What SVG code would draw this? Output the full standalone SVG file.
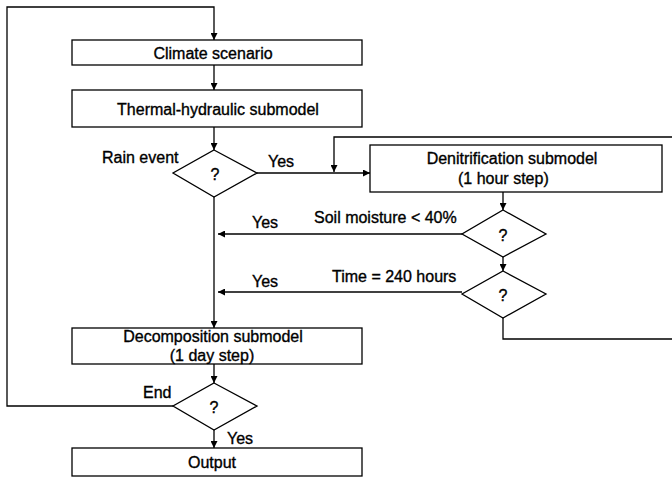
<svg xmlns="http://www.w3.org/2000/svg" width="672" height="479" viewBox="0 0 672 479">
<defs>
<marker id="ah" viewBox="0 0 10 10" refX="10" refY="5" markerWidth="9" markerHeight="7" markerUnits="userSpaceOnUse" orient="auto">
<path d="M0,0 L10,5 L0,10 Z" fill="#000"/>
</marker>
<style>
.box{fill:#fff;stroke:#000;stroke-width:1.3}
.dia{fill:#fff;stroke:#000;stroke-width:1.3}
.ln{fill:none;stroke:#000;stroke-width:1.3}
.arr{fill:none;stroke:#000;stroke-width:1.3;marker-end:url(#ah)}
text{font-family:"Liberation Sans",Arial,sans-serif;font-size:16px;fill:#000;stroke:#000;stroke-width:0.35}
.c{text-anchor:middle}
</style>
</defs>
<rect width="672" height="479" fill="#fff"/>
<g id="connectors">
<polyline class="arr" points="173,406 7,406 7,7 214,7 214,40"/>
<line class="arr" x1="214" y1="65" x2="214" y2="90"/>
<line class="arr" x1="214" y1="127" x2="214" y2="150"/>
<line class="arr" x1="257" y1="173" x2="370" y2="173"/>
<polyline class="arr" points="672,137 334,137 334,172"/>
<line class="arr" x1="503" y1="192" x2="503" y2="210"/>
<line class="arr" x1="462" y1="234" x2="218" y2="234"/>
<line class="arr" x1="503" y1="257" x2="503" y2="271"/>
<line class="arr" x1="462" y1="292" x2="218" y2="292"/>
<polyline class="ln" points="503,318 503,339 672,339"/>
<line class="arr" x1="214" y1="197" x2="214" y2="328"/>
<line class="arr" x1="214" y1="364" x2="214" y2="383"/>
<line class="arr" x1="214" y1="430" x2="214" y2="448"/>
</g>
<g id="climate">
<rect class="box" x="72" y="40" width="290" height="25"/>
<text class="c" x="213" y="59">Climate scenario</text>
</g>
<g id="thermal">
<rect class="box" x="72" y="90" width="290" height="37"/>
<text class="c" x="218" y="115">Thermal-hydraulic submodel</text>
</g>
<g id="rain">
<polygon class="dia" points="214,150 257,173 214,197 173,173"/>
<text class="c" x="215" y="180">?</text>
<text x="102" y="163">Rain event</text>
<text x="268" y="167">Yes</text>
</g>
<g id="denit">
<rect class="box" x="370" y="145" width="292" height="47"/>
<text class="c" x="512" y="164">Denitrification submodel</text>
<text x="458" y="184">(1 hour step)</text>
</g>
<g id="soil">
<polygon class="dia" points="503,210 546,234 503,257 462,234"/>
<text class="c" x="503" y="241">?</text>
<text x="314" y="223">Soil moisture &lt; 40%</text>
<text x="252" y="228">Yes</text>
</g>
<g id="time">
<polygon class="dia" points="503,271 546,294 503,318 462,294"/>
<text class="c" x="503" y="301">?</text>
<text x="332" y="282">Time = 240 hours</text>
<text x="252" y="287">Yes</text>
</g>
<g id="decomp">
<rect class="box" x="72" y="328" width="290" height="36"/>
<text class="c" x="213" y="342">Decomposition submodel</text>
<text class="c" x="212" y="361">(1 day step)</text>
</g>
<g id="end">
<polygon class="dia" points="214,383 257,406 214,430 173,406"/>
<text class="c" x="214" y="413">?</text>
<text x="143" y="398">End</text>
<text x="227" y="444">Yes</text>
</g>
<g id="output">
<rect class="box" x="72" y="448" width="290" height="28"/>
<text class="c" x="212" y="468">Output</text>
</g>
</svg>
